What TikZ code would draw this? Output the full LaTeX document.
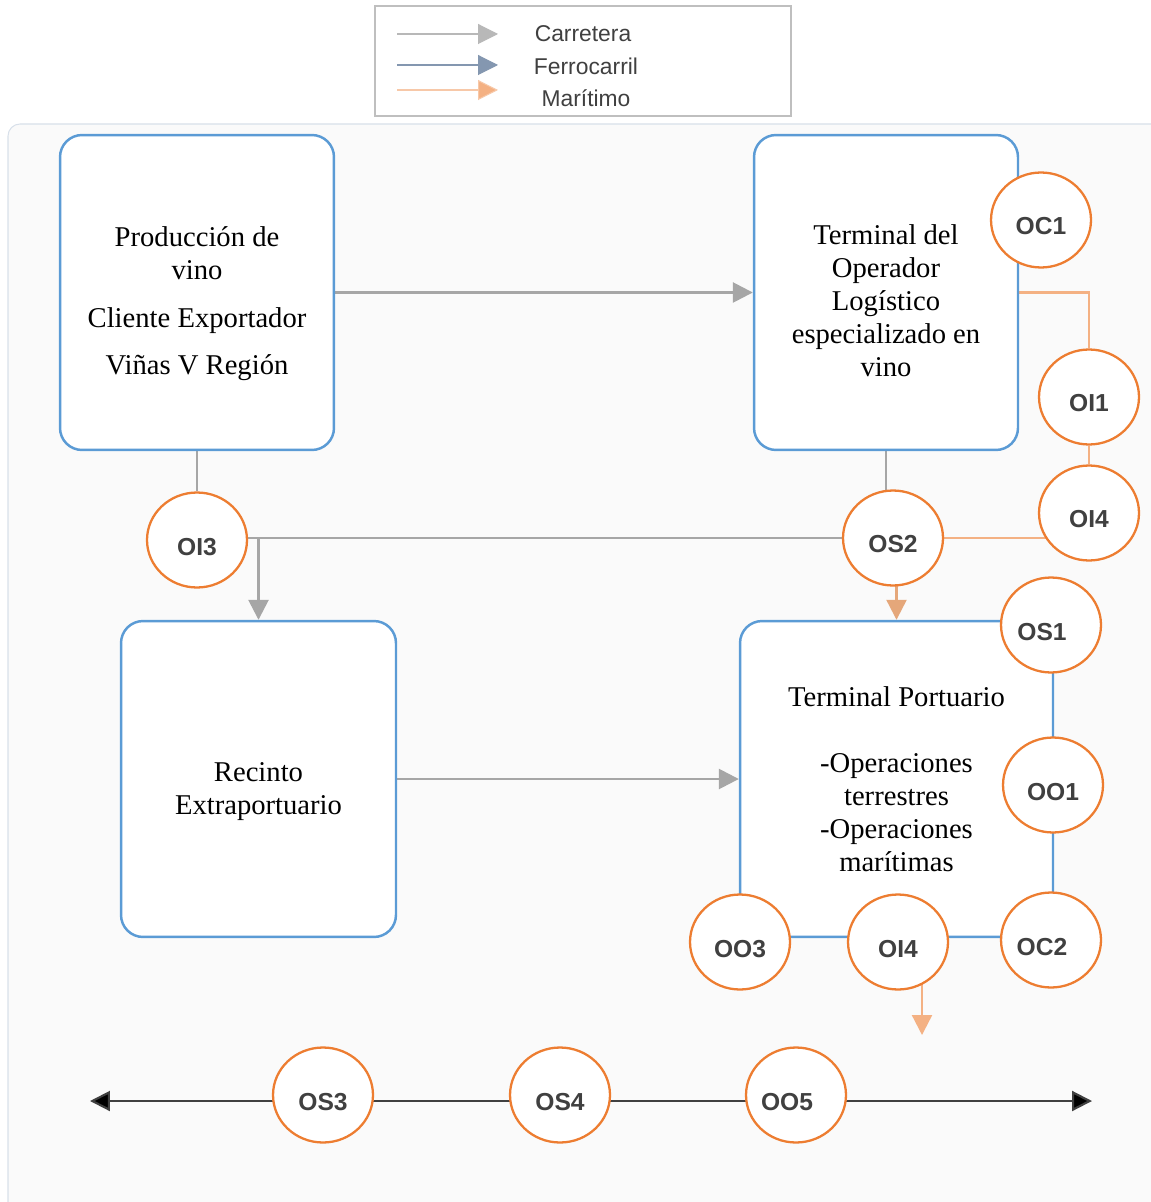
\documentclass[tikz,border=0pt]{standalone}
\usepackage{fontspec}
\setmainfont{Liberation Serif}
\setsansfont{Liberation Sans}
\usepackage{tikz}
\usetikzlibrary{shapes.geometric, arrows.meta, positioning}
\definecolor{stageblue}{RGB}{91,155,213}
\definecolor{opcolor}{RGB}{237,125,49}
\definecolor{roadcolor}{RGB}{166,166,166}
\definecolor{railcolor}{RGB}{132,151,176}
\definecolor{seacolor}{RGB}{244,177,131}
\definecolor{seadark}{RGB}{229,167,122}
\definecolor{labelgray}{RGB}{64,64,64}
\definecolor{panelfill}{RGB}{250,250,250}
\definecolor{paneledge}{RGB}{216,224,234}
\pgfdeclarelayer{panel}
\pgfdeclarelayer{links}
\pgfsetlayers{panel,links,main}
\newcommand{\topgap}[1]{\rule{0pt}{#1}}

\begin{document}
\begin{tikzpicture}[
    x=0.02cm, y=-0.02cm,
    stage/.style={draw=stageblue, line width=1.4pt, fill=white, rounded corners=0.44cm, align=center, inner sep=0pt, font=\fontsize{16.3}{18.8}\selectfont},
    op/.style={ellipse, draw=opcolor, line width=1.3pt, fill=white, minimum width=2cm, minimum height=1.9cm, inner sep=0pt, text height=0.6cm, text depth=0pt, text=labelgray, font=\sffamily\bfseries\fontsize{14}{16}\selectfont},
    opleft/.style={op, execute at end node={\kern0.36cm}},
    keytext/.style={text=labelgray, font=\sffamily\fontsize{13}{15}\selectfont},
    tip/.style={-{Triangle[length=0.4cm, width=0.4cm]}},
    roadlink/.style={draw=roadcolor, line width=1.5pt},
    road/.style={roadlink, tip},
    sealink/.style={draw=seacolor, line width=1.3pt},
    sea/.style={sealink, tip},
    coast/.style={draw=black!75, line width=1.2pt, {Triangle[length=0.4cm, width=0.4cm, fill=black]}-{Triangle[length=0.4cm, width=0.4cm, fill=black]}},
]
    \useasboundingbox (0,0) rectangle (1151,1202);

    % Panel
    \begin{pgfonlayer}{panel}
        \draw[draw=paneledge, fill=panelfill, line width=0.6pt, rounded corners=0.24cm] (8,124) rectangle (1175,1225);
    \end{pgfonlayer}

    % Legend
    \draw[draw=black!25, fill=white, line width=0.6pt] (375,6) rectangle (791,116);
    \coordinate (roadkeyA) at (397,34);  \coordinate (roadkeyB) at (498,34);
    \coordinate (railkeyA) at (397,65);  \coordinate (railkeyB) at (498,65);
    \coordinate (seakeyA) at (397,90);   \coordinate (seakeyB) at (498,90);
    \draw[draw=roadcolor!80, line width=0.6pt, tip] (roadkeyA) -- (roadkeyB);
    \draw[draw=railcolor, line width=0.6pt, tip] (railkeyA) -- (railkeyB);
    \draw[draw=seacolor!70, line width=0.6pt, -{Triangle[length=0.4cm, width=0.4cm, fill=seacolor]}] (seakeyA) -- (seakeyB);
    \node[keytext] (carretera) at (583,34) {Carretera};
    \node[keytext] (ferrocarril) at (586,66) {Ferrocarril};
    \node[keytext] (maritimo) at (586,98) {Marítimo};

    % Stages
    \node[stage, minimum width=5.48cm, minimum height=6.3cm] (prod) at (197,292.5) {\topgap{24pt}Producción de\\vino\\[8.5pt]Cliente Exportador\\[8.5pt]Viñas V Región};
    \node[stage, minimum width=5.28cm, minimum height=6.3cm] (tol) at (886,292.5) {\topgap{21pt}Terminal del\\Operador\\Logístico\\especializado en\\vino};
    \node[stage, minimum width=5.5cm, minimum height=6.32cm] (recinto) at (258.5,779) {\topgap{25pt}Recinto\\Extraportuario};
    \node[stage, minimum width=6.26cm, minimum height=6.32cm] (tp) at (896.5,779) {Terminal Portuario\\[18.8pt]-Operaciones\\terrestres\\-Operaciones\\marítimas};

    % Operations
    \node[op] (oc1) at (1041,220) {OC1};
    \node[op] (oi1) at (1089,397) {OI1};
    \node[op] (oi4r) at (1089,513) {OI4};
    \node[op] (os2) at (893,538) {OS2};
    \node[op] (oi3) at (197,540) {OI3};
    \node[opleft] (os1) at (1051,625) {OS1};
    \node[op] (oo1) at (1053,785) {OO1};
    \node[op] (oo3) at (740,942) {OO3};
    \node[op] (oi4b) at (898,942) {OI4};
    \node[opleft] (oc2) at (1051,940) {OC2};
    \node[op] (os3) at (323,1095) {OS3};
    \node[op] (os4) at (560,1095) {OS4};
    \node[opleft] (oo5) at (796,1095) {OO5};

    % Free ends
    \coordinate (seaout) at (922,1035);
    \coordinate (westend) at (90,1101);
    \coordinate (eastend) at (1092,1101);

    % Links
    \begin{pgfonlayer}{links}
        \draw[road] (prod) -- (tol);
        \draw[roadlink] (prod) -- (oi3);
        \draw[roadlink] (tol.south) -- (tol.south |- os2.center);
        \draw[roadlink] (oi3.center |- os2.center) -- (os2.center);
        \draw[road] (recinto.north |- os2.center) -- (recinto.north);
        \draw[road] (recinto) -- (tp);
        \draw[sealink] (tol.east) -| (oi1);
        \draw[sealink] (oi1) -- (oi4r);
        \draw[sealink] (os2) -- (os2 -| oi4r);
        \draw[draw=seadark, line width=1.3pt, tip] (tp.north |- os2.center) -- (tp.north);
        \draw[sea] (seaout |- oi4b.center) -- (seaout);
        \draw[coast] (westend) -- (eastend);
    \end{pgfonlayer}

\end{tikzpicture}
\end{document}
